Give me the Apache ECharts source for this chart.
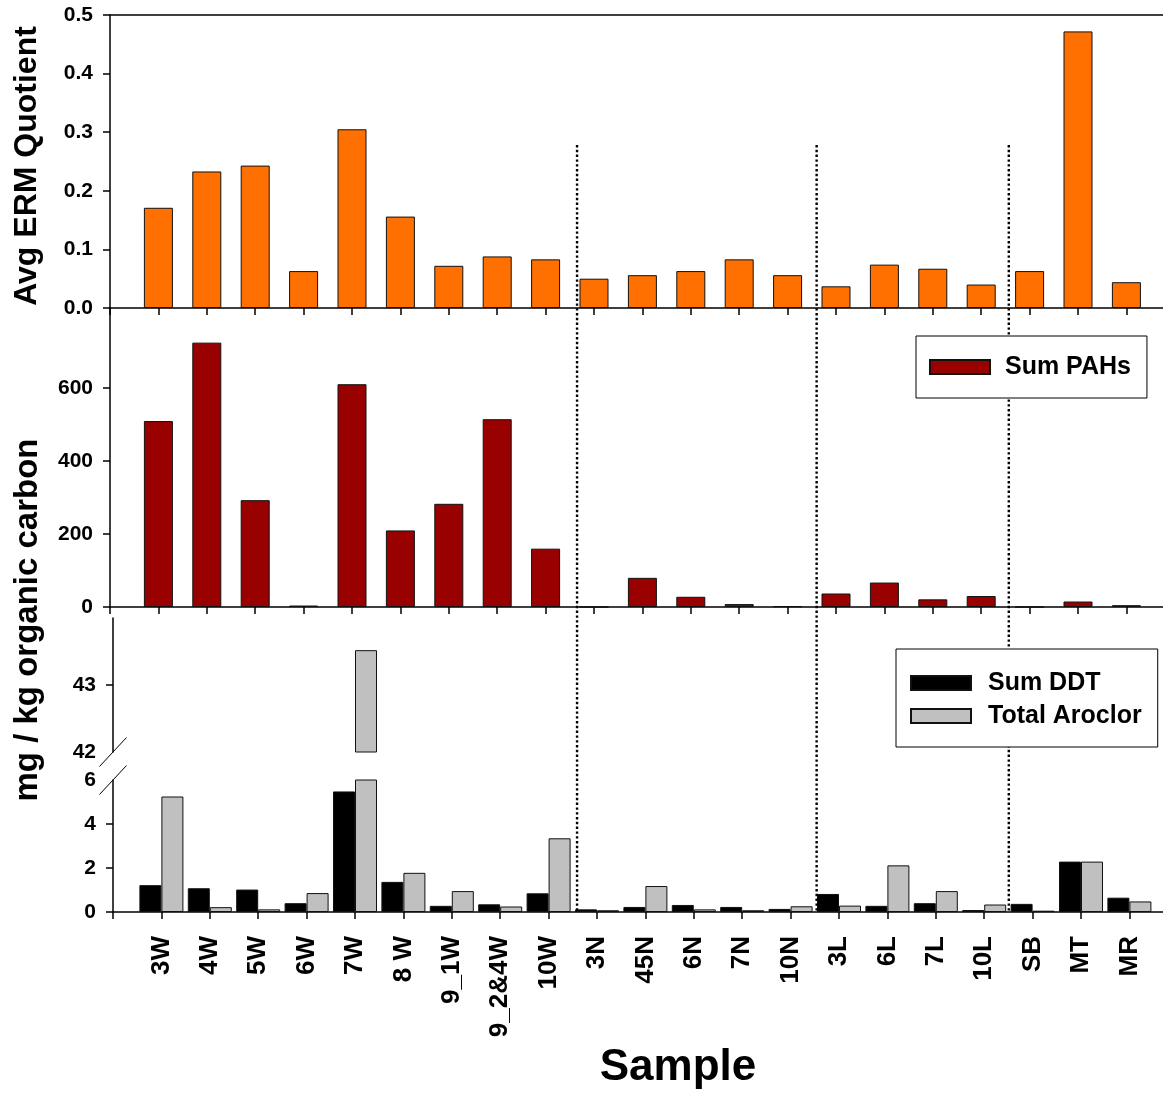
<!DOCTYPE html>
<html>
<head>
<meta charset="utf-8">
<script src="https://cdn.jsdelivr.net/npm/echarts@6/dist/echarts.min.js"></script>
<style>
  html, body { margin: 0; padding: 0; background: #fff; }
  #chart { width: 1163px; height: 1095px; }
</style>
</head>
<body>
<div id="chart"></div>
<script>
// Sample stations along the x axis (station i sits at axis value i + 1)
const samples = ['3W', '4W', '5W', '6W', '7W', '8 W', '9_1W', '9_2&4W', '10W',
                 '3N', '45N', '6N', '7N', '10N', '3L', '6L', '7L', '10L', 'SB', 'MT', 'MR'];

// Average ERM quotient per station
const ermQuotient = [0.171, 0.233, 0.243, 0.063, 0.305, 0.156, 0.072, 0.088, 0.083,
                     0.050, 0.056, 0.063, 0.083, 0.056, 0.037, 0.074, 0.067, 0.040, 0.063, 0.472, 0.044];

// Sum of PAHs, mg / kg organic carbon
const sumPAHs = [510, 725, 293, 4, 611, 210, 283, 515, 160,
                 0, 80, 28, 8, 2, 37, 67, 21, 30, 0, 15, 5];

// Sum of DDT and total Aroclor, mg / kg organic carbon
const sumDDT = [1.22, 1.08, 1.02, 0.40, 5.48, 1.37, 0.28, 0.35, 0.85,
                0.12, 0.23, 0.32, 0.23, 0.14, 0.82, 0.28, 0.40, 0.09, 0.37, 2.29, 0.65];
const totalAroclor = [5.25, 0.22, 0.12, 0.86, 43.52, 1.78, 0.95, 0.25, 3.35,
                      0.08, 1.18, 0.12, 0.08, 0.26, 0.29, 2.12, 0.95, 0.34, 0.06, 2.29, 0.48];

// Dotted dividers between the W / N / L / other station groups (axis units)
const groupBreaks = [9.65, 14.6, 18.57];

// Tick values
const ermTicks = [0, 0.1, 0.2, 0.3, 0.4, 0.5];
const pahTicks = [0, 200, 400, 600];
const highTickMarks = [43];
const highTickLabels = [42, 43];
const lowTickMarks = [0, 2, 4];
const lowTickLabels = [0, 2, 4, 6];

const FONT = '"Liberation Sans", Arial, Helvetica, sans-serif';
const SLOT = 48.4;            // px per station slot
const SLOTS = samples.length + 1;
const GRID_W = SLOT * SLOTS;

const toPairs = (arr) => arr.map((v, i) => [i + 1, v]);

const axisLineStyle = { color: '#000', width: 1.5 };
const tickLabel = { fontFamily: FONT, fontWeight: 'bold', fontSize: 21, color: '#000', margin: 17 };

function xAxisBase(gridIndex, extra) {
  return Object.assign({
    type: 'value', gridIndex: gridIndex, min: 0, max: SLOTS, interval: 1,
    axisLine: { show: true, onZero: false, lineStyle: axisLineStyle },
    axisTick: { show: true, inside: false, length: 7, lineStyle: { color: '#000', width: 1.5 } },
    axisLabel: { show: false },
    splitLine: { show: false }
  }, extra || {});
}

function yAxisBase(gridIndex, extra) {
  return Object.assign({
    type: 'value', gridIndex: gridIndex,
    axisLine: { show: true, onZero: false, lineStyle: axisLineStyle },
    axisTick: { show: true, inside: false, length: 7, lineStyle: { color: '#000', width: 1.5 } },
    splitLine: { show: false }
  }, extra || {});
}

const gridBase = { outerBoundsMode: 'none', containLabel: false };
const barBorder = { borderColor: '#111', borderWidth: 1 };

const option = {
  animation: false,
  backgroundColor: '#fff',
  grid: [
    Object.assign({ left: 110, top: 15, width: GRID_W, height: 293 }, gridBase),   // ERM quotient
    Object.assign({ left: 110, top: 308, width: GRID_W, height: 299 }, gridBase),  // PAHs
    Object.assign({ left: 113, top: 618, width: GRID_W, height: 134 }, gridBase),  // DDT / Aroclor, upper segment
    Object.assign({ left: 113, top: 780, width: GRID_W, height: 132 }, gridBase),  // DDT / Aroclor, lower segment
    Object.assign({ left: 110, top: 145, width: GRID_W, height: 767 }, gridBase)   // group dividers
  ],
  xAxis: [
    xAxisBase(0),
    xAxisBase(0, { position: 'top', axisTick: { show: false } }),
    xAxisBase(1),
    xAxisBase(2, { show: false }),
    xAxisBase(3, {
      axisLabel: {
        show: true, rotate: 90, margin: 24,
        fontFamily: FONT, fontWeight: 'bold', fontSize: 26, color: '#000',
        formatter: (v) => samples[v - 1] || ''
      }
    }),
    xAxisBase(4, { show: false })
  ],
  yAxis: [
    yAxisBase(0, {
      min: 0, max: 0.5, interval: 0.1,
      axisTick: { show: true, length: 7, customValues: ermTicks, lineStyle: { color: '#000', width: 1.5 } },
      axisLabel: Object.assign({ customValues: ermTicks, formatter: (v) => v.toFixed(1) }, tickLabel)
    }),
    yAxisBase(1, {
      min: 0, max: 820,
      axisTick: { show: true, length: 7, customValues: pahTicks, lineStyle: { color: '#000', width: 1.5 } },
      axisLabel: Object.assign({ customValues: pahTicks }, tickLabel)
    }),
    yAxisBase(2, {
      min: 42, max: 44,
      axisTick: { show: true, length: 7, customValues: highTickMarks, lineStyle: { color: '#000', width: 1.5 } },
      axisLabel: Object.assign({ customValues: highTickLabels }, tickLabel)
    }),
    yAxisBase(3, {
      min: 0, max: 6,
      axisTick: { show: true, length: 7, customValues: lowTickMarks, lineStyle: { color: '#000', width: 1.5 } },
      axisLabel: Object.assign({ customValues: lowTickLabels }, tickLabel)
    }),
    { type: 'value', gridIndex: 4, min: 0, max: 1, show: false }
  ],
  legend: [
    {
      data: ['Sum PAHs'], left: 916, top: 336, orient: 'vertical', icon: 'rect',
      padding: [16, 16, 16, 13], itemWidth: 60, itemHeight: 14,
      borderColor: '#000', borderWidth: 1, backgroundColor: '#fff',
      selectedMode: false,
      textStyle: { fontFamily: FONT, fontWeight: 'bold', fontSize: 25, color: '#000', lineHeight: 30, padding: [0, 0, 0, 10] }
    },
    {
      data: ['Sum DDT', 'Total Aroclor'], left: 896, top: 649, orient: 'vertical', icon: 'rect',
      padding: [19, 16, 16, 14], itemGap: 3, itemWidth: 60, itemHeight: 14,
      borderColor: '#000', borderWidth: 1, backgroundColor: '#fff',
      selectedMode: false,
      textStyle: { fontFamily: FONT, fontWeight: 'bold', fontSize: 25, color: '#000', lineHeight: 30, padding: [0, 0, 0, 12] }
    }
  ],
  series: [
    {
      name: 'Avg ERM Quotient', type: 'bar', xAxisIndex: 0, yAxisIndex: 0,
      barWidth: 29, data: toPairs(ermQuotient),
      itemStyle: Object.assign({ color: '#ff7000' }, barBorder)
    },
    {
      name: 'Sum PAHs', type: 'bar', xAxisIndex: 2, yAxisIndex: 1,
      barWidth: 29, data: toPairs(sumPAHs),
      itemStyle: Object.assign({ color: '#990000' }, barBorder)
    },
    {
      name: 'Sum DDT', type: 'bar', xAxisIndex: 3, yAxisIndex: 2,
      barWidth: 22, barGap: '0%', data: toPairs(sumDDT),
      itemStyle: Object.assign({ color: '#000' }, barBorder)
    },
    {
      name: 'Total Aroclor', type: 'bar', xAxisIndex: 3, yAxisIndex: 2,
      barWidth: 22, barGap: '0%', data: toPairs(totalAroclor),
      itemStyle: Object.assign({ color: '#c0c0c0' }, barBorder)
    },
    {
      name: 'Sum DDT', type: 'bar', xAxisIndex: 4, yAxisIndex: 3,
      barWidth: 22, barGap: '0%', data: toPairs(sumDDT),
      itemStyle: Object.assign({ color: '#000' }, barBorder)
    },
    {
      name: 'Total Aroclor', type: 'bar', xAxisIndex: 4, yAxisIndex: 3,
      barWidth: 22, barGap: '0%', data: toPairs(totalAroclor),
      itemStyle: Object.assign({ color: '#c0c0c0' }, barBorder)
    },
    {
      name: 'dividers', type: 'custom', xAxisIndex: 5, yAxisIndex: 4,
      data: groupBreaks.map((v) => [v, 0]),
      encode: { x: 0, y: 1 },
      z: 3,
      renderItem: (params, api) => {
        const x = api.coord([api.value(0), 0])[0];
        const cs = params.coordSys;
        return {
          type: 'line',
          shape: { x1: x, y1: cs.y, x2: x, y2: cs.y + cs.height },
          style: { stroke: '#000', lineWidth: 2.4, lineDash: [2.4, 2.4] }
        };
      }
    }
  ]
};

const chart = echarts.init(document.getElementById('chart'), null, { renderer: 'canvas' });
chart.setOption(option);

// Axis titles and the break marks on the split axis
const highBase = chart.convertToPixel({ gridIndex: 2 }, [0, 42]);
const lowTop = chart.convertToPixel({ gridIndex: 3 }, [0, 6]);
const slash = (p) => ({
  type: 'line',
  shape: { x1: p[0] - 13.5, y1: p[1] + 14.5, x2: p[0] + 13.5, y2: p[1] - 14.5 },
  style: { stroke: '#000', lineWidth: 1 },
  z: 10
});

chart.setOption({
  graphic: [
    {
      type: 'text', x: 27, y: 166, rotation: Math.PI / 2,
      style: { text: 'Avg ERM Quotient', font: 'bold 32px ' + FONT, fill: '#000', align: 'center', verticalAlign: 'middle' }
    },
    {
      type: 'text', x: 28, y: 620, rotation: Math.PI / 2,
      style: { text: 'mg / kg organic carbon', font: 'bold 33px ' + FONT, fill: '#000', align: 'center', verticalAlign: 'middle' }
    },
    {
      type: 'text', x: 678, y: 1068,
      style: { text: 'Sample', font: 'bold 44px ' + FONT, fill: '#000', align: 'center', verticalAlign: 'middle' }
    },
    slash(highBase),
    slash(lowTop)
  ]
});
</script>
</body>
</html>
